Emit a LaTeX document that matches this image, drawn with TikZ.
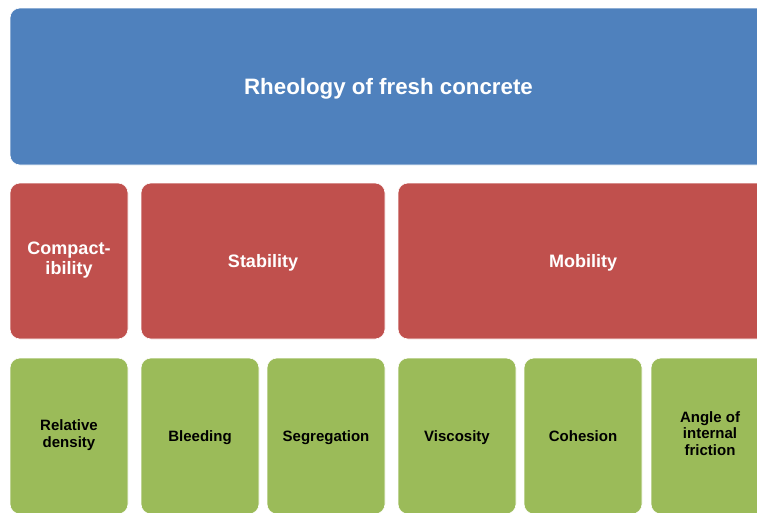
\documentclass[tikz,border=0pt]{standalone}
\usepackage{fontspec}
\setmainfont{Liberation Sans}
\usetikzlibrary{positioning}
\definecolor{topblue}{HTML}{4F81BD}
\definecolor{midred}{HTML}{C0504D}
\definecolor{leafgreen}{HTML}{9BBB59}

\begin{document}
\begin{tikzpicture}[
        x=1pt, y=-1pt,
        % --- Styles ---
        box/.style={rectangle, rounded corners=10pt, draw=white, line width=0.6pt, outer sep=0pt, inner sep=2pt, align=center,
            execute at begin node={\rule{0pt}{1.05em}}, execute at end node=\strut},
        rootbox/.style={box, fill=topblue, text=white, minimum width=757pt, minimum height=157pt, font=\fontsize{22.3}{24}\selectfont\bfseries},
        groupbox/.style={box, fill=midred, text=white, minimum height=156pt, font=\fontsize{18}{20}\selectfont\bfseries},
        leafbox/.style={box, fill=leafgreen, text=black, minimum width=118pt, minimum height=156pt, font=\fontsize{15}{16.5}\selectfont\bfseries}
    ]
        \useasboundingbox (0,0) rectangle (757,512);
        \clip (0,0) rectangle (757,512);

        % --- Top (Root) ---
        \node[rootbox, anchor=north west] (rheology) at (10,8) {Rheology of fresh concrete};

        % --- Middle Row (Properties) ---
        \node[groupbox, minimum width=118pt, below right=18pt and 0pt of rheology.south west] (compact) {Compact-\\ibility};
        \node[groupbox, minimum width=244pt, right=13pt of compact] (stability) {Stability};
        \node[groupbox, minimum width=370pt, right=13pt of stability] (mobility) {Mobility};

        % --- Bottom Row (Measures) ---
        \node[leafbox, below right=19pt and 0pt of compact.south west] (density) {Relative\\density};
        \node[leafbox, right=13pt of density] (bleeding) {Bleeding};
        \node[leafbox, right=8pt of bleeding] (segregation) {Segregation};
        \node[leafbox, right=13pt of segregation] (viscosity) {Viscosity};
        \node[leafbox, right=8pt of viscosity] (cohesion) {Cohesion};
        \node[leafbox, right=9pt of cohesion] (friction) {Angle of\\internal\\friction};

    \end{tikzpicture}
\end{document}
